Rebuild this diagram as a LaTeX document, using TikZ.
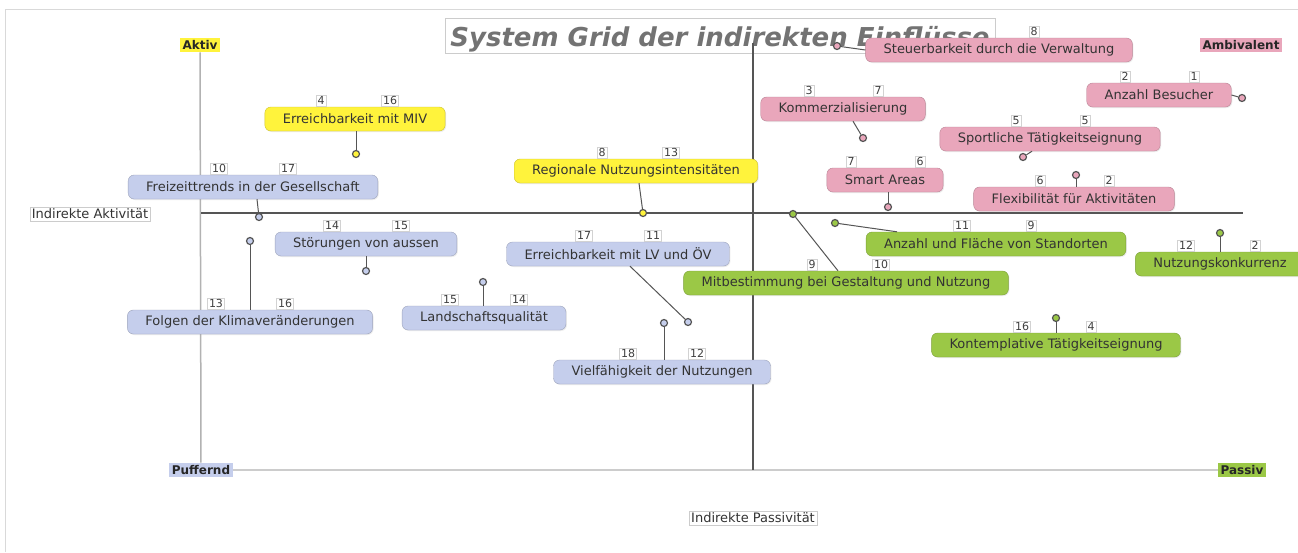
\documentclass[tikz,border=0pt]{standalone}
\usepackage{fontspec}
\setmainfont{DejaVu Sans}
\usetikzlibrary{shadows}
\definecolor{gelb}{RGB}{255,243,60}
\definecolor{blau}{RGB}{197,206,236}
\definecolor{rosa}{RGB}{233,166,187}
\definecolor{gruen}{RGB}{155,200,70}
\definecolor{linie}{RGB}{85,85,85}
\definecolor{titel}{RGB}{115,115,115}
\begin{document}
\begin{tikzpicture}[x=1pt,y=-1pt,
  box/.style={fill=#1,draw=#1!80!black,line width=0.4pt,rounded corners=6pt,minimum height=24pt,inner xsep=18pt,inner ysep=2pt,
    font=\fontsize{13}{15}\selectfont,text=black!80,drop shadow={opacity=0.15,shadow xshift=1pt,shadow yshift=-1pt}},
  num/.style={fill=white,draw=gray!35,inner sep=1.5pt,font=\fontsize{11}{13}\selectfont,text=black!75},
  punkt/.style={circle,fill=#1,draw=linie,line width=1.2pt,inner sep=0pt,minimum size=7pt},
  con/.style={draw=linie,line width=1pt},
  achse/.style={inner sep=2.5pt,font=\bfseries\fontsize{12}{14}\selectfont,text=black!85},
  rand/.style={draw=gray!40,fill=white,inner sep=2pt,font=\fontsize{13}{15}\selectfont,text=black!80}]
\useasboundingbox[fill=white] (0,0) rectangle (1298,552);
\draw[gray!30] (5,552) -- (5,9) -- (1298,9);
\node[draw=gray!40,anchor=base,text height=21pt,text depth=0pt,minimum width=550pt,inner xsep=0pt,inner ysep=7pt,text=titel] (titel) at (720,46) {\bfseries\itshape\fontsize{26}{28}\selectfont System Grid der indirekten Einflüsse};
\node[achse,fill=gelb] (aktiv) at (200,45) {Aktiv};
\node[achse,fill=rosa] (ambi) at (1241,45) {Ambivalent};
\node[achse,fill=blau] (puff) at (201,470) {Puffernd};
\node[achse,fill=gruen] (passiv) at (1242,470) {Passiv};
\node[rand] (indakt) at (90,214) {Indirekte Aktivität};
\node[rand] (indpass) at (753,518) {Indirekte Passivität};
\draw[gray!60,line width=1.5pt] (aktiv) -- (puff);
\draw[gray!40,line width=2.5pt] (puff) -- (passiv);
\coordinate (hl) at (201,213);
\coordinate (hr) at (1243,213);
\coordinate (vt) at (753,43);
\draw[linie,line width=1.5pt] (hl) -- (hr);
\draw[linie,line width=1.2pt] (vt) -- (vt |- puff);
\node[box=gelb] (miv) at (355,119) {Erreichbarkeit mit MIV};
\node[box=gelb] (regional) at (636,171) {Regionale Nutzungsintensitäten};
\node[box=blau] (freizeit) at (253,187) {Freizeittrends in der Gesellschaft};
\node[box=blau] (stoerung) at (366,244) {Störungen von aussen};
\node[box=blau] (klima) at (250,322) {Folgen der Klimaveränderungen};
\node[box=blau] (landschaft) at (484,318) {Landschaftsqualität};
\node[box=blau] (lvoev) at (618,254) {Erreichbarkeit mit LV und ÖV};
\node[box=blau] (vielfalt) at (662,372) {Vielfähigkeit der Nutzungen};
\node[box=rosa] (steuer) at (999,50) {Steuerbarkeit durch die Verwaltung};
\node[box=rosa] (kommerz) at (843,109) {Kommerzialisierung};
\node[box=rosa] (besucher) at (1159,95) {Anzahl Besucher};
\node[box=rosa] (sport) at (1050,139) {Sportliche Tätigkeitseignung};
\node[box=rosa] (smart) at (885,180) {Smart Areas};
\node[box=rosa] (flex) at (1074,199) {Flexibilität für Aktivitäten};
\node[box=gruen] (mitbest) at (846,283) {Mitbestimmung bei Gestaltung und Nutzung};
\node[box=gruen] (standort) at (996,244) {Anzahl und Fläche von Standorten};
\node[box=gruen] (konkurrenz) at (1220,264) {Nutzungskonkurrenz};
\node[box=gruen] (kontempl) at (1056,345) {Kontemplative Tätigkeitseignung};
\foreach \n/\a/\b in {miv/4/16,regional/8/13,freizeit/10/17,stoerung/14/15,klima/13/16,landschaft/15/14,
  lvoev/17/11,vielfalt/18/12,kommerz/3/7,besucher/2/1,sport/5/5,smart/7/6,flex/6/2,
  mitbest/9/10,standort/11/9,konkurrenz/12/2,kontempl/16/4}{
  \node[num] (\n a) at ([xshift=-34pt,yshift=6pt]\n.north) {\a};
  \node[num] (\n b) at ([xshift=35pt,yshift=6pt]\n.north) {\b};
}
\node[num] (steuer b) at ([xshift=35pt,yshift=6pt]steuer.north) {8};
\foreach \n/\x/\y/\c in {miv/356/154/gelb,regional/643/213/gelb,freizeit/259/217/blau,stoerung/366/271/blau,
  klima/250/241/blau,landschaft/483/282/blau,lvoev/688/322/blau,vielfalt/664/323/blau,
  steuer/837/46/rosa,kommerz/863/138/rosa,besucher/1242/98/rosa,sport/1023/157/rosa,
  smart/888/207/rosa,flex/1076/175/rosa,mitbest/793/214/gruen,standort/835/223/gruen,
  konkurrenz/1220/233/gruen,kontempl/1056/318/gruen}
  \node[punkt=\c] (d\n) at (\x,\y) {};
\draw[con] (miv.south -| dmiv) -- (dmiv);
\draw[con] ([xshift=3pt]regional.south) -- (dregional);
\draw[con] ([xshift=4pt]freizeit.south) -- (dfreizeit);
\draw[con] (stoerung.south -| dstoerung) -- (dstoerung);
\draw[con] (klima.north -| dklima) -- (dklima);
\draw[con] (landschaft.north -| dlandschaft) -- (dlandschaft);
\draw[con] ([xshift=12pt]lvoev.south) -- (dlvoev);
\draw[con] (vielfalt.north -| dvielfalt) -- (dvielfalt);
\draw[con] (steuer.west) -- (dsteuer);
\draw[con] ([xshift=10pt]kommerz.south) -- (dkommerz);
\draw[con] (besucher.east) -- (dbesucher);
\draw[con] ([xshift=-18pt]sport.south) -- (dsport);
\draw[con] (smart.south -| dsmart) -- (dsmart);
\draw[con] (flex.north -| dflex) -- (dflex);
\draw[con] ([xshift=-8pt]mitbest.north) -- (dmitbest);
\draw[con] ([xshift=-99pt]standort.north) -- (dstandort);
\draw[con] (konkurrenz.north -| dkonkurrenz) -- (dkonkurrenz);
\draw[con] (kontempl.north -| dkontempl) -- (dkontempl);
\end{tikzpicture}
\end{document}
